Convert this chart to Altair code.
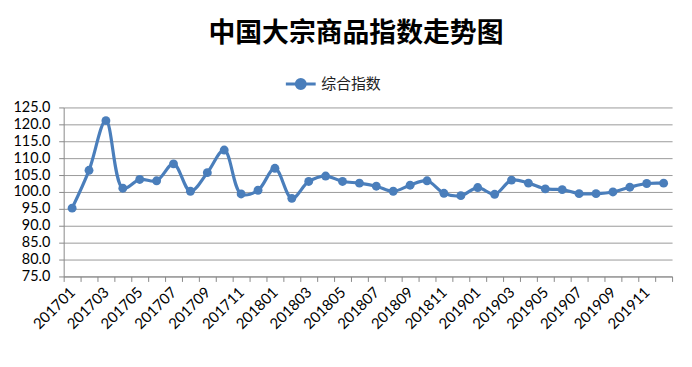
import altair as alt
import pandas as pd

months = ["201701", "201702", "201703", "201704", "201705", "201706",
          "201707", "201708", "201709", "201710", "201711", "201712",
          "201801", "201802", "201803", "201804", "201805", "201806",
          "201807", "201808", "201809", "201810", "201811", "201812",
          "201901", "201902", "201903", "201904", "201905", "201906",
          "201907", "201908", "201909", "201910", "201911", "201912"]
index_values = [95.2, 106.4, 121.1, 101.1, 103.7, 103.3, 108.3, 100.2, 105.7, 112.4, 99.4, 100.5,
                107.0, 98.1, 103.1, 104.7, 103.1, 102.6, 101.7, 100.2, 102.0, 103.3, 99.6, 98.9,
                101.3, 99.3, 103.5, 102.6, 100.9, 100.7, 99.5, 99.5, 100.0, 101.4, 102.5, 102.6]
series_name = "综合指数"
y_ticks = [75, 80, 85, 90, 95, 100, 105, 110, 115, 120, 125]

df = pd.DataFrame({"month": months, "value": index_values, "series": series_name})

blue = "#4a7ebb"
grid = "#9a9a9a"
legend_path = "M-1,0L1,0M-0.3,0A0.3,0.3,0,1,1,0.3,0A0.3,0.3,0,1,1,-0.3,0Z"

chart = alt.Chart(df).mark_line(
    strokeWidth=3.2,
    interpolate="catmull-rom",
    point=alt.OverlayMarkDef(filled=True, size=80, color=blue, opacity=1),
).encode(
    x=alt.X("month:O", sort=months,
            scale=alt.Scale(paddingInner=0, paddingOuter=0),
            axis=alt.Axis(title=None, labelAngle=315, labelAlign="right", labelBaseline="middle",
                          labelExpr="parseInt(substring(datum.label, 4, 6)) % 2 == 1 ? datum.label : ''",
                          labelFont="Lato", labelFontSize=15, labelColor="#000000",
                          labelPadding=8, tickBand="extent", ticks=True, tickSize=5,
                          tickColor="#888888", domainColor="#888888", grid=False,
                          labelOverlap=False)),
    y=alt.Y("value:Q", scale=alt.Scale(domain=[75, 125], nice=False, zero=False),
            axis=alt.Axis(title=None, values=y_ticks, format=".1f",
                          labelFont="Lato", labelFontSize=14.5, labelColor="#000000",
                          labelPadding=9, tickSize=5, tickColor="#888888",
                          domainColor="#888888", grid=True, gridColor=grid)),
    color=alt.Color("series:N", scale=alt.Scale(range=[blue]),
                    legend=alt.Legend(title=None, orient="none", legendX=222, legendY=-40,
                                      symbolType=legend_path, symbolSize=900,
                                      symbolStrokeWidth=3, symbolFillColor=blue,
                                      symbolStrokeColor=blue, symbolOpacity=1,
                                      labelFont="Noto Sans CJK SC", labelFontSize=15,
                                      labelColor="#222222", labelOffset=4, padding=0)),
).properties(
    width=612,
    height=170,
    title=alt.TitleParams("中国大宗商品指数走势图", font="Noto Sans CJK SC", fontSize=27,
                          fontWeight="bold", color="#000000", anchor="middle", dx=-12, offset=20),
    autosize=alt.AutoSizeParams(type="none"),
    padding={"left": 56, "top": 99, "right": 12, "bottom": 80},
    background="white",
).configure_view(stroke=None)

chart.save("out.html", embed_options={"renderer": "svg", "actions": False})
